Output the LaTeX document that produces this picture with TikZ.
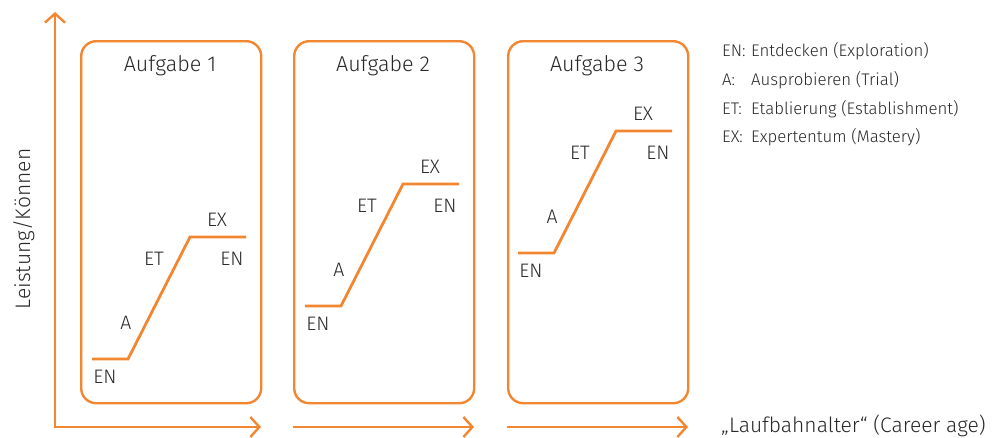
\documentclass[tikz,border=0pt]{standalone}
\usepackage{fontspec}
\setmainfont{Fira Sans}[UprightFont={* Light}]
\usetikzlibrary{arrows.meta}
\definecolor{orng}{RGB}{243,134,48}
\definecolor{txt}{RGB}{40,40,40}
\tikzset{
  box/.style={draw=orng, line width=2.4pt, rounded corners=15pt},
  curve/.style={draw=orng, line width=2.8pt},
  axis/.style={draw=orng, line width=2.4pt, {Straight Barb[length=9pt,width=20pt,line width=2.4pt]}-{Straight Barb[length=9pt,width=20pt,line width=2.4pt]}},
  arr/.style={draw=orng, line width=2.4pt, -{Straight Barb[length=9pt,width=20pt,line width=2.4pt]}},
  ttl/.style={text=txt, font=\fontsize{21.5}{24}\selectfont, anchor=base},
  lbl/.style={text=txt, font=\fontsize{19.5}{22}\selectfont, anchor=base, inner sep=0pt},
  leg/.style={text=txt, font=\fontsize{16.8}{19}\selectfont, anchor=base west, inner sep=0pt},
  axl/.style={text=txt, font=\fontsize{21}{24}\selectfont, inner sep=0pt},
}
\begin{document}
\begin{tikzpicture}[x=1pt,y=-1pt]
\useasboundingbox (0,0) rectangle (992,437);
% axes
\coordinate (ytop) at (55,12);
\coordinate (orig) at (55,427);
\coordinate (x1) at (261,427);
\coordinate (x2s) at (293,427);
\coordinate (x2) at (474,427);
\coordinate (x3s) at (507,427);
\coordinate (x3) at (688,427);
\draw[axis] (ytop) -- (orig) -- (x1);
\draw[arr] (x2s) -- (x2);
\draw[arr] (x3s) -- (x3);
\node[axl, rotate=90, anchor=base] (ylab) at (30,229) {Leistung/Können};
\node[axl, anchor=base west] (xlab) at (721,432) {„Laufbahnalter“ (Career age)};
% boxes
\foreach \i/\bx/\sx/\sy in {1/80/92/359, 2/293/305/306, 3/507/518/253}{
  \node[box, minimum width=180pt, minimum height=362pt, anchor=north west, inner sep=0pt] (b\i) at (\bx,40) {};
  \node[ttl] (t\i) at (\bx+90,71) {Aufgabe \i};
  \coordinate (s\i) at (\sx,\sy);
  \coordinate (c\i) at (\sx+36,\sy);
  \coordinate (d\i) at (\sx+98,\sy-122);
  \coordinate (e\i) at (\sx+154,\sy-122);
  \draw[curve] (s\i) -- (c\i) -- (d\i) -- (e\i);
  \node[lbl] (en\i) at (\sx+13,\sy+24) {EN};
  \node[lbl] (a\i) at (\sx+34,\sy-30) {A};
  \node[lbl] (et\i) at (\sx+62,\sy-94) {ET};
  \node[lbl] (ex\i) at (\sx+125,\sy-133) {EX};
  \node[lbl] (enb\i) at (\sx+140,\sy-94) {EN};
}
% legend
\node[leg] (l1a) at (722,56) {EN:};
\node[leg] (l1b) at (751,56) {Entdecken (Exploration)};
\node[leg] (l2a) at (722,85) {A:};
\node[leg] (l2b) at (751,85) {Ausprobieren (Trial)};
\node[leg] (l3a) at (722,114) {ET:};
\node[leg] (l3b) at (751,114) {Etablierung (Establishment)};
\node[leg] (l4a) at (722,142) {EX:};
\node[leg] (l4b) at (751,142) {Expertentum (Mastery)};
\end{tikzpicture}
\end{document}
